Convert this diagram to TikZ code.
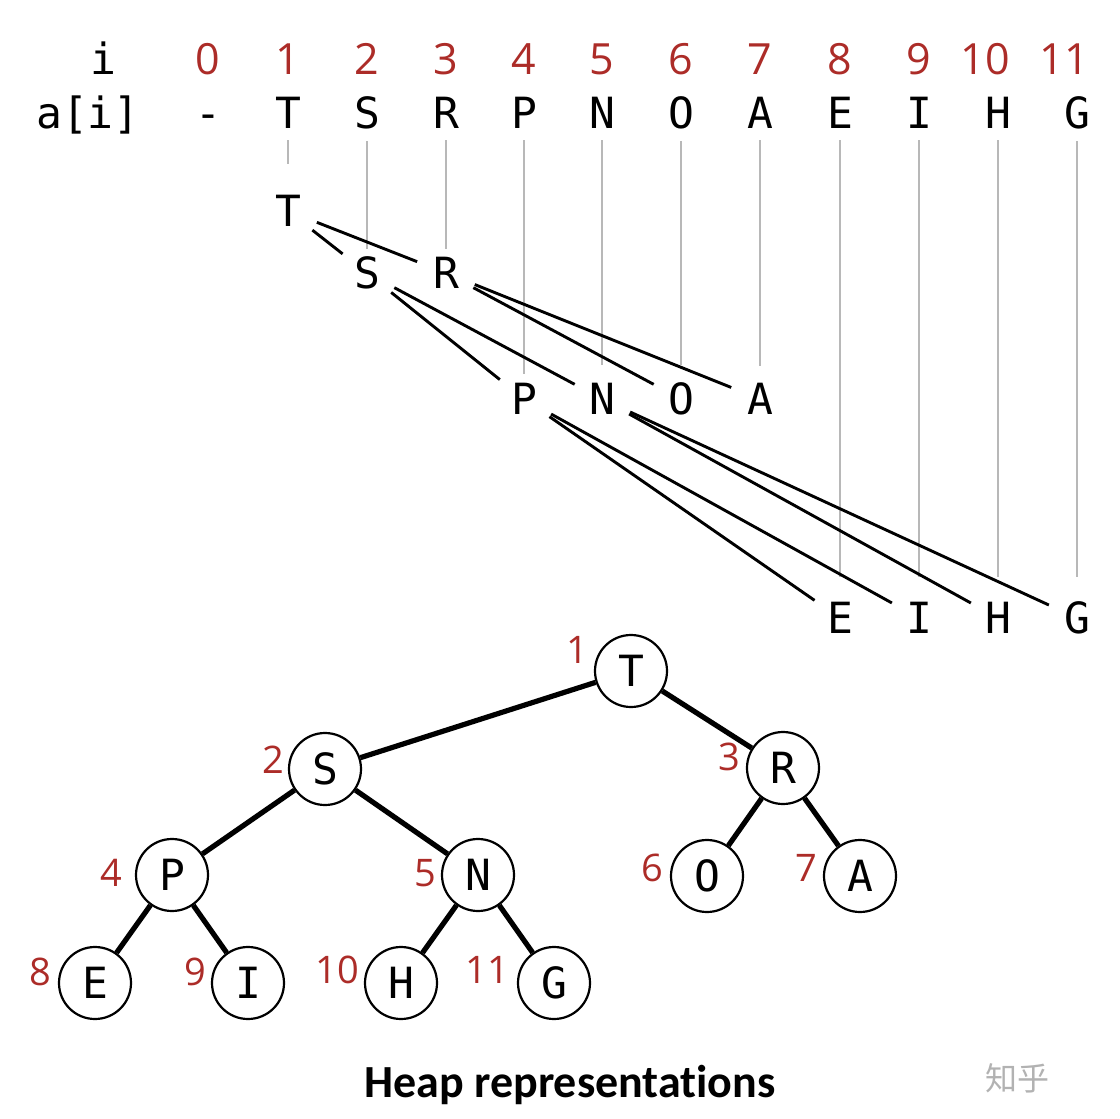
\documentclass[tikz,border=0pt]{standalone}
\usepackage{fontspec}
\setmainfont{Open Sans}
\newfontfamily\monof{DejaVu Sans Mono}
\newfontfamily\numf{Open Sans}
\newfontfamily\titlef[Ligatures=NoCommon]{Carlito}
\newfontfamily\cjk{Noto Sans CJK SC}
\definecolor{idxred}{RGB}{172,44,40}
\begin{document}
\begin{tikzpicture}[x=0.5pt,y=-0.5pt,
  mono/.style={font=\monof\fontsize{21.5pt}{21.5pt}\selectfont, inner sep=0pt},
  idx/.style={font=\numf\fontsize{21.5pt}{21.5pt}\selectfont, text=idxred, inner sep=0pt},
  tidx/.style={font=\numf\fontsize{19pt}{19pt}\selectfont, text=idxred, inner sep=0pt},
  heapnode/.style={circle, draw, line width=1.1pt, minimum size=36pt, inner sep=0pt,
    font=\monof\fontsize{21.5pt}{21.5pt}\selectfont, fill=white},
  graytick/.style={draw=black!28, line width=1.4pt},
  thinedge/.style={line width=1.45pt, shorten <=15.5pt, shorten >=15.5pt},
  heapedge/.style={line width=2.6pt}]
\useasboundingbox (0,0) rectangle (1120,1119);

% index row
\node[mono, anchor=base] (ilabel) at (103,75) {i};
\node[idx, anchor=base] (i0) at (208,75) {0};
\node[idx, anchor=base] (i1) at (288,75) {1};
\node[idx, anchor=base] (i2) at (367,75) {2};
\node[idx, anchor=base] (i3) at (446,75) {3};
\node[idx, anchor=base] (i4) at (524,75) {4};
\node[idx, anchor=base] (i5) at (602,75) {5};
\node[idx, anchor=base] (i6) at (681,75) {6};
\node[idx, anchor=base] (i7) at (760,75) {7};
\node[idx, anchor=base] (i8) at (840,75) {8};
\node[idx, anchor=base] (i9) at (919,75) {9};
\node[idx, anchor=base] (i10) at (985,75) {10};
\node[idx, anchor=base] (i11) at (1064,75) {11};

% array row
\node[mono, anchor=base] (alabel) at (88,128) {a[i]};
\node[mono, anchor=base] (a0) at (208,128) {-};
\node[mono, anchor=base] (a1) at (288,128) {T};
\node[mono, anchor=base] (a2) at (367,128) {S};
\node[mono, anchor=base] (a3) at (446,128) {R};
\node[mono, anchor=base] (a4) at (524,128) {P};
\node[mono, anchor=base] (a5) at (602,128) {N};
\node[mono, anchor=base] (a6) at (681,128) {O};
\node[mono, anchor=base] (a7) at (760,128) {A};
\node[mono, anchor=base] (a8) at (840,128) {E};
\node[mono, anchor=base] (a9) at (919,128) {I};
\node[mono, anchor=base] (a10) at (998,128) {H};
\node[mono, anchor=base] (a11) at (1077,128) {G};

% tree drawn in the array
\node[mono] (t1) at (288,211) {T};
\node[mono] (t2) at (367,273) {S};
\node[mono] (t3) at (446,273) {R};
\node[mono] (t4) at (524,399) {P};
\node[mono] (t5) at (602,399) {N};
\node[mono] (t6) at (681,399) {O};
\node[mono] (t7) at (760,399) {A};
\node[mono] (t8) at (840,618) {E};
\node[mono] (t9) at (919,618) {I};
\node[mono] (t10) at (998,618) {H};
\node[mono] (t11) at (1077,618) {G};

% gray verticals
\draw[graytick, shorten <=6pt, shorten >=15.3pt] (a1.south) -- (t1.north);
\draw[graytick, shorten <=6pt, shorten >=3.8pt] (a2.south) -- (t2.north);
\draw[graytick, shorten <=6pt, shorten >=3.8pt] (a3.south) -- (t3.north);
\draw[graytick, shorten <=6pt, shorten >=4.3pt] (a4.south) -- (t4.north);
\draw[graytick, shorten <=6pt, shorten >=8.8pt] (a5.south) -- (t5.north);
\draw[graytick, shorten <=6pt, shorten >=8.8pt] (a6.south) -- (t6.north);
\draw[graytick, shorten <=6pt, shorten >=8.3pt] (a7.south) -- (t7.north);
\draw[graytick, shorten <=6pt, shorten >=12.3pt] (a8.south) -- (t8.north);
\draw[graytick, shorten <=6pt, shorten >=12.3pt] (a9.south) -- (t9.north);
\draw[graytick, shorten <=6pt, shorten >=12.3pt] (a10.south) -- (t10.north);
\draw[graytick, shorten <=6pt, shorten >=12.3pt] (a11.south) -- (t11.north);

% black tree lines
\draw[thinedge] (t1.center) -- (t2.center);
\draw[thinedge] (t1.center) -- (t3.center);
\draw[thinedge] (t2.center) -- (t4.center);
\draw[thinedge] (t2.center) -- (t5.center);
\draw[thinedge] (t3.center) -- (t6.center);
\draw[thinedge] (t3.center) -- (t7.center);
\draw[thinedge] (t4.center) -- (t8.center);
\draw[thinedge] (t4.center) -- (t9.center);
\draw[thinedge] (t5.center) -- (t10.center);
\draw[thinedge] (t5.center) -- (t11.center);

% heap tree
\node[heapnode] (h1) at (631,671) {T};
\node[heapnode] (h2) at (325,769) {S};
\node[heapnode] (h3) at (783,768) {R};
\node[heapnode] (h4) at (172,875) {P};
\node[heapnode] (h5) at (478,875) {N};
\node[heapnode] (h6) at (707,876) {O};
\node[heapnode] (h7) at (860,876) {A};
\node[heapnode] (h8) at (95,983) {E};
\node[heapnode] (h9) at (248,983) {I};
\node[heapnode] (h10) at (401,983) {H};
\node[heapnode] (h11) at (554,983) {G};

\draw[heapedge] (h1) -- (h2);
\draw[heapedge] (h1) -- (h3);
\draw[heapedge] (h2) -- (h4);
\draw[heapedge] (h2) -- (h5);
\draw[heapedge] (h3) -- (h6);
\draw[heapedge] (h3) -- (h7);
\draw[heapedge] (h4) -- (h8);
\draw[heapedge] (h4) -- (h9);
\draw[heapedge] (h5) -- (h10);
\draw[heapedge] (h5) -- (h11);

\node[tidx] (n1) at (577,650) {1};
\node[tidx] (n2) at (273,760) {2};
\node[tidx] (n3) at (729,757) {3};
\node[tidx] (n4) at (111,873) {4};
\node[tidx] (n5) at (425,873) {5};
\node[tidx] (n6) at (652,868) {6};
\node[tidx] (n7) at (806,868) {7};
\node[tidx] (n8) at (40,972) {8};
\node[tidx] (n9) at (195,972) {9};
\node[tidx] (n10) at (337,970) {10};
\node[tidx] (n11) at (487,970) {11};

\node[font=\titlef\bfseries\fontsize{23pt}{23pt}\selectfont, anchor=base, inner sep=0pt] (title) at (570,1097) {Heap representat\kern0pt ions};
\node[font=\cjk\fontsize{16pt}{16pt}\selectfont, text=black!30, anchor=base, inner sep=0pt] (wm) at (1017,1090) {知乎};
\end{tikzpicture}
\end{document}
